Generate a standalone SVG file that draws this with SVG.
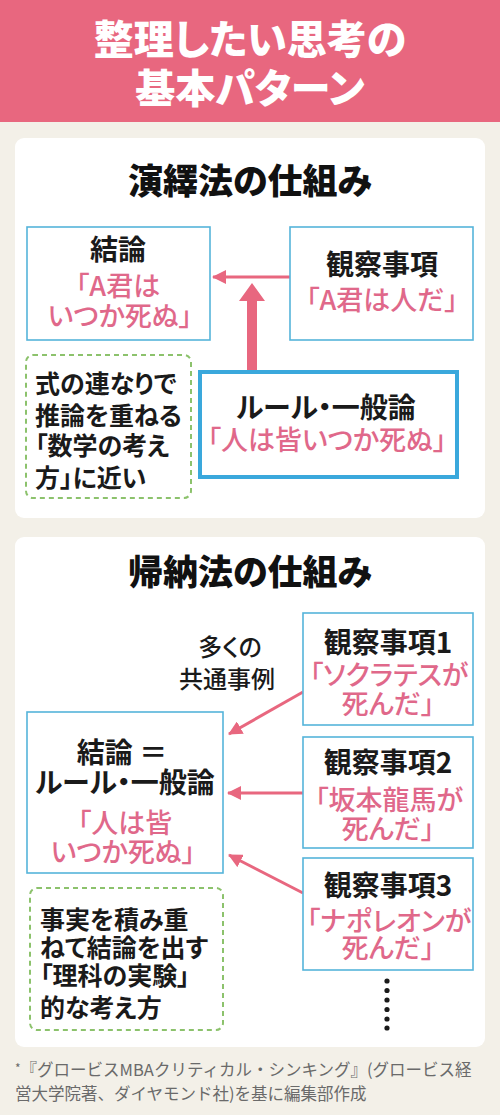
<svg xmlns="http://www.w3.org/2000/svg" width="500" height="1115" viewBox="0 0 500 1115">
<defs>
<style>
text{font-family:"Noto Sans CJK JP","Noto Sans",sans-serif;font-feature-settings:"palt";}
.hd{fill:#fff;font-size:40px;font-weight:900;text-anchor:middle;}
.ttl{fill:#111;font-size:35px;font-weight:900;text-anchor:middle;}
.bk{fill:#1a1a1a;font-size:28px;font-weight:700;text-anchor:middle;}
.pk{fill:#E0688A;font-size:27px;font-weight:500;text-anchor:middle;}
.nt{fill:#1a1a1a;font-size:25px;font-weight:700;}
.sm{fill:#1a1a1a;font-size:24px;font-weight:500;text-anchor:middle;}
.fn{fill:#6a6a6a;font-size:16.5px;font-weight:400;font-feature-settings:normal;}
.box{fill:#fff;stroke:#55B4DA;stroke-width:1.6;}
.dash{fill:#fff;stroke:#8CC26C;stroke-width:2;stroke-dasharray:5 4;}
.ar{stroke:#E8677F;stroke-width:3;fill:none;marker-end:url(#ah);}
</style>
<marker id="ah" viewBox="0 0 14 14" refX="13" refY="7" markerWidth="14" markerHeight="14" markerUnits="userSpaceOnUse" orient="auto">
<path d="M0,0 L14,7 L0,14 z" fill="#E8677F"/>
</marker>
</defs>
<rect x="0" y="0" width="500" height="1115" fill="#F3F0E8"/>
<g id="header">
<rect x="0" y="0" width="500" height="122" fill="#E8677F"/>
<text class="hd" x="250" y="54">整理したい思考の</text>
<text class="hd" x="250" y="103">基本パターン</text>
</g>
<g id="panel-deduction">
<rect x="15" y="138" width="470" height="380" rx="9" fill="#fff"/>
<text class="ttl" x="250" y="194">演繹法の仕組み</text>
</g>
<g id="panel-induction">
<rect x="15" y="537" width="470" height="510" rx="9" fill="#fff"/>
<text class="ttl" x="250" y="585">帰納法の仕組み</text>
</g>
<g id="connectors">
<line class="ar" x1="290" y1="277" x2="213" y2="277"/>
<polygon points="247,372 257,372 257,301 265,301 252,283 239,301 247,301" fill="#E8677F"/>
<line class="ar" x1="303" y1="692" x2="229" y2="734"/>
<line class="ar" x1="303" y1="793" x2="228" y2="793"/>
<line class="ar" x1="303" y1="893" x2="229" y2="855"/>
</g>
<g id="d-conclusion">
<rect class="box" x="27" y="227" width="183" height="113"/>
<text class="bk" x="118" y="260">結論</text>
<text class="pk" x="118" y="296">「A君は</text>
<text class="pk" x="120" y="326">いつか死ぬ」</text>
</g>
<g id="d-observation">
<rect class="box" x="290" y="227" width="183" height="113"/>
<text class="bk" x="382" y="275">観察事項</text>
<text class="pk" x="382" y="310">「A君は人だ」</text>
</g>
<g id="d-rule">
<rect x="200" y="372" width="257" height="105" fill="#fff" stroke="#3AA8DC" stroke-width="4"/>
<text class="bk" x="326" y="418">ルール・一般論</text>
<text class="pk" x="327" y="450">「人は皆いつか死ぬ」</text>
</g>
<g id="d-note">
<rect class="dash" x="26" y="355" width="165" height="143" rx="7"/>
<text class="nt" x="35" y="393">式の連なりで</text>
<text class="nt" x="35" y="425">推論を重ねる</text>
<text class="nt" x="35" y="455">「数学の考え</text>
<text class="nt" x="35" y="487">方」に近い</text>
</g>
<g id="i-many">
<text class="sm" x="230" y="656">多くの</text>
<text class="sm" x="227" y="688">共通事例</text>
</g>
<g id="i-obs1">
<rect class="box" x="303" y="613" width="170" height="112"/>
<text class="bk" x="388" y="653">観察事項1</text>
<text class="pk" x="389" y="685">「ソクラテスが</text>
<text class="pk" x="388" y="714">死んだ」</text>
</g>
<g id="i-conclusion">
<rect class="box" x="27" y="712" width="196" height="161"/>
<text class="bk" x="122" y="763">結論 ＝</text>
<text class="bk" x="125" y="793">ルール・一般論</text>
<text class="pk" x="125" y="833">「人は皆</text>
<text class="pk" x="123" y="862">いつか死ぬ」</text>
</g>
<g id="i-obs2">
<rect class="box" x="303" y="737" width="170" height="111"/>
<text class="bk" x="388" y="773">観察事項2</text>
<text class="pk" x="389" y="810">「坂本龍馬が</text>
<text class="pk" x="388" y="839">死んだ」</text>
</g>
<g id="i-obs3">
<rect class="box" x="303" y="858" width="170" height="112"/>
<text class="bk" x="388" y="896">観察事項3</text>
<text class="pk" x="389" y="931">「ナポレオンが</text>
<text class="pk" x="388" y="958">死んだ」</text>
</g>
<g id="i-dots" fill="#1a1a1a">
<circle cx="387" cy="981" r="2.6"/>
<circle cx="387" cy="990.5" r="2.6"/>
<circle cx="387" cy="1000" r="2.6"/>
<circle cx="387" cy="1009.5" r="2.6"/>
<circle cx="387" cy="1019" r="2.6"/>
<circle cx="387" cy="1028" r="2.6"/>
</g>
<g id="i-note">
<rect class="dash" x="30" y="888" width="193" height="142" rx="7"/>
<text class="nt" x="40" y="929">事実を積み重</text>
<text class="nt" x="40" y="957">ねて結論を出す</text>
<text class="nt" x="40" y="985">「理科の実験」</text>
<text class="nt" x="40" y="1017">的な考え方</text>
</g>
<g id="footnote">
<text class="fn" x="15" y="1076"><tspan font-size="12" dy="-3">*</tspan><tspan dy="3">『グロービスMBAクリティカル・シンキング』(グロービス経</tspan></text>
<text class="fn" x="15" y="1100">営大学院著、ダイヤモンド社)を基に編集部作成</text>
</g>
</svg>
